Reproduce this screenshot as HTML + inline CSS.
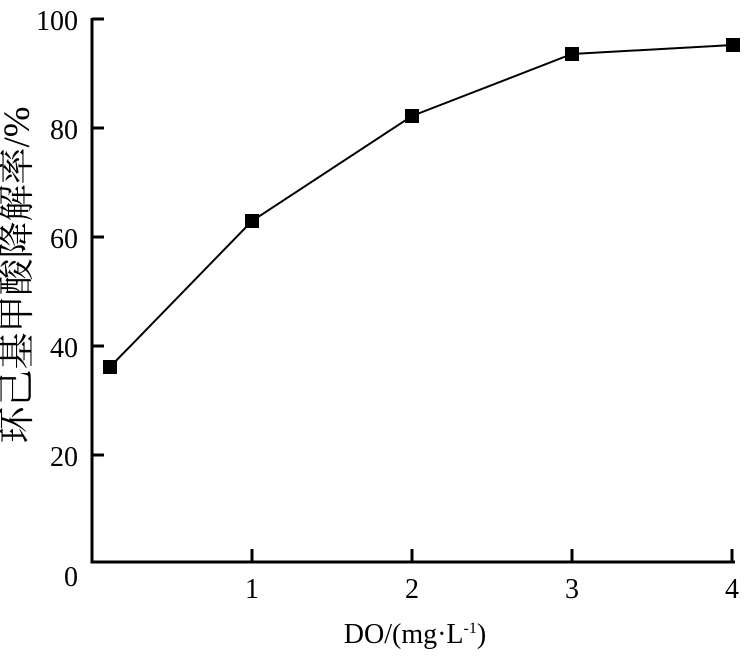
<!DOCTYPE html>
<html><head><style>body{margin:0;background:#fff}</style></head><body>
<svg width="749" height="658" xmlns="http://www.w3.org/2000/svg" style="display:block">
<g stroke="#000" stroke-width="3" fill="none">
<polyline points="92,18 92,562 735,562"/>
<line x1="92" y1="19" x2="104" y2="19"/>
<line x1="92" y1="128" x2="104" y2="128"/>
<line x1="92" y1="237" x2="104" y2="237"/>
<line x1="92" y1="346" x2="104" y2="346"/>
<line x1="92" y1="455" x2="104" y2="455"/>
<line x1="252" y1="562" x2="252" y2="549"/>
<line x1="412" y1="562" x2="412" y2="549"/>
<line x1="572" y1="562" x2="572" y2="549"/>
<line x1="732" y1="562" x2="732" y2="549"/>
</g>
<polyline points="110,367 252,221 412,116 572,54 733,45" stroke="#000" stroke-width="2" fill="none"/>
<g fill="#000">
<rect x="103" y="360" width="14" height="14"/>
<rect x="245" y="214" width="14" height="14"/>
<rect x="405" y="109" width="14" height="14"/>
<rect x="565" y="47" width="14" height="14"/>
<rect x="726" y="38" width="14" height="14"/>
</g>
<g font-family="Liberation Serif, serif" font-size="28" fill="#000" text-anchor="end">
<text x="78" y="30">100</text>
<text x="78" y="139">80</text>
<text x="78" y="248">60</text>
<text x="78" y="357">40</text>
<text x="78" y="466">20</text>
<text x="78" y="586">0</text>
</g>
<g font-family="Liberation Serif, serif" font-size="28" fill="#000" text-anchor="middle">
<text x="252" y="598">1</text>
<text x="412" y="598">2</text>
<text x="572" y="598">3</text>
<text x="732" y="598">4</text>
<text x="415" y="643">DO/(mg·L<tspan font-size="16" dy="-10">-1</tspan><tspan dy="10">)</tspan></text>
</g>
<text transform="translate(29,275) rotate(-90)" text-anchor="middle" font-family="Liberation Serif, 'Noto Serif CJK SC', serif" font-size="37" fill="#000">环己基甲酸降解率/%</text>
</svg>
</body></html>
